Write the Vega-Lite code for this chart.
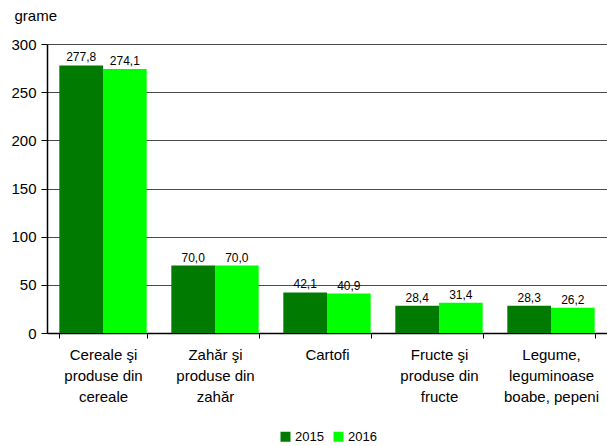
{
  "$schema": "https://vega.github.io/schema/vega-lite/v6.json",
  "width": 560,
  "height": 289,
  "autosize": {"type": "none"},
  "padding": {"left": 47, "top": 44, "right": 0, "bottom": 113},
  "config": {
    "font": "Liberation Sans",
    "view": {"stroke": null},
    "locale": {"number": {"decimal": ",", "thousands": ".", "grouping": [3], "currency": ["", " lei"]}}
  },
  "data": {
    "values": [
      {"cat": "Cereale şi|produse din|cereale", "order": 1, "year": "2015", "value": 277.8},
      {"cat": "Cereale şi|produse din|cereale", "order": 1, "year": "2016", "value": 274.1},
      {"cat": "Zahăr şi|produse din|zahăr", "order": 2, "year": "2015", "value": 70.0},
      {"cat": "Zahăr şi|produse din|zahăr", "order": 2, "year": "2016", "value": 70.0},
      {"cat": "Cartofi", "order": 3, "year": "2015", "value": 42.1},
      {"cat": "Cartofi", "order": 3, "year": "2016", "value": 40.9},
      {"cat": "Fructe şi|produse din|fructe", "order": 4, "year": "2015", "value": 28.4},
      {"cat": "Fructe şi|produse din|fructe", "order": 4, "year": "2016", "value": 31.4},
      {"cat": "Legume,|leguminoase|boabe, pepeni", "order": 5, "year": "2015", "value": 28.3},
      {"cat": "Legume,|leguminoase|boabe, pepeni", "order": 5, "year": "2016", "value": 26.2}
    ]
  },
  "encoding": {
    "x": {
      "field": "cat", "type": "nominal", "sort": {"field": "order"},
      "scale": {"paddingInner": 0.22, "paddingOuter": 0.11},
      "axis": {
        "title": null, "labelAngle": 0, "labelExpr": "split(datum.label, '|')",
        "labelFontSize": 15, "labelColor": "#000", "labelPadding": 9, "labelLineHeight": 21,
        "labelBaseline": "top",
        "tickBand": "extent", "tickColor": "#000", "tickSize": 5,
        "domainColor": "#000", "domainWidth": 1.5, "grid": false
      }
    },
    "xOffset": {"field": "year", "type": "nominal", "scale": {"paddingInner": 0, "paddingOuter": 0}},
    "y": {
      "field": "value", "type": "quantitative",
      "scale": {"domain": [0, 300]},
      "axis": {
        "values": [0, 50, 100, 150, 200, 250, 300],
        "title": "grame", "titleAngle": 0, "titleAlign": "left", "titleBaseline": "alphabetic",
        "titleX": -33, "titleY": -24, "titleFontSize": 15, "titleFontWeight": "normal", "titleColor": "#000",
        "labelFontSize": 15, "labelColor": "#000", "labelPadding": 5,
        "tickColor": "#000", "tickSize": 6, "domainColor": "#000", "domainWidth": 1.5,
        "grid": true, "gridColor": "#4a4a4a", "gridWidth": 1
      }
    }
  },
  "layer": [
    {
      "mark": {"type": "bar"},
      "encoding": {
        "color": {
          "field": "year", "type": "nominal",
          "scale": {"domain": ["2015", "2016"], "range": ["#007a00", "#00ff00"]},
          "legend": {
            "title": null, "orient": "none", "direction": "horizontal",
            "legendX": 232, "legendY": 386,
            "symbolType": "square", "symbolSize": 100, "symbolStrokeWidth": 0,
            "labelFontSize": 13, "labelColor": "#000", "labelOffset": 3, "columnPadding": 8
          }
        }
      }
    },
    {
      "mark": {"type": "text", "dy": -8, "fontSize": 12, "color": "#000"},
      "encoding": {
        "text": {"field": "value", "type": "quantitative", "format": ".1f"}
      }
    }
  ]
}
